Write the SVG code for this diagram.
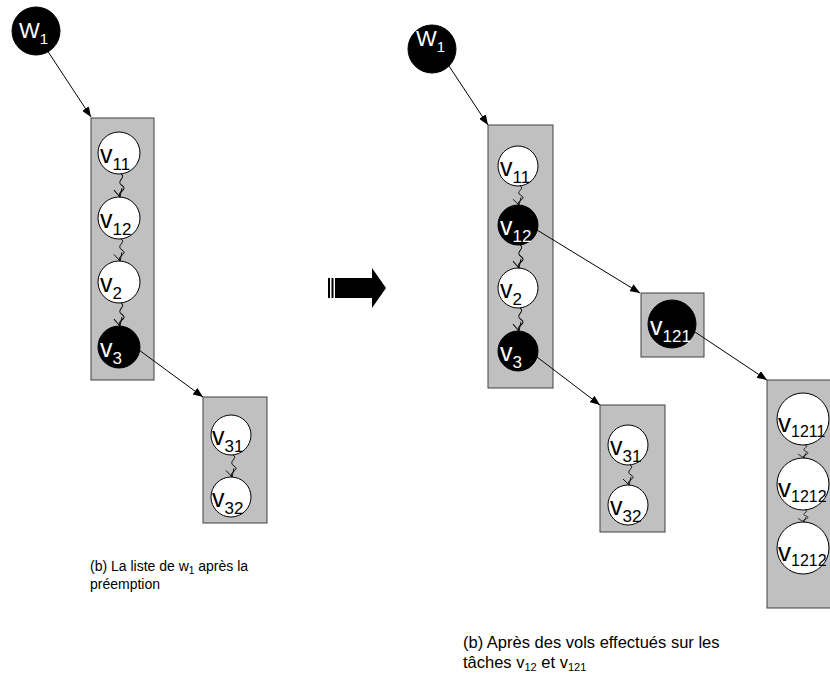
<svg xmlns="http://www.w3.org/2000/svg" width="830" height="677" viewBox="0 0 830 677">
<style>
.box{fill:#c0c0c0;stroke:#404040;stroke-width:1}
.wn{fill:#fff;stroke:#000;stroke-width:1}
.bn{fill:#000;stroke:#000;stroke-width:1}
.t{font-family:"Liberation Sans",Arial,sans-serif;fill:#000}
.tw{font-family:"Liberation Sans",Arial,sans-serif;fill:#fff}
.edge{stroke:#000;stroke-width:1;fill:none}
.sq{stroke:#000;stroke-width:0.9;fill:none}
.cap{font-family:"Liberation Sans",Arial,sans-serif;font-size:14px;fill:#000}
.cap2{font-family:"Liberation Sans",Arial,sans-serif;font-size:16.5px;fill:#000}
</style>
<defs>
<marker id="ah" markerUnits="userSpaceOnUse" markerWidth="10" markerHeight="8" refX="10" refY="4" orient="auto">
<path d="M0,0 L10,4 L0,8 z" fill="#000"/>
</marker>
<g id="squig">
<path class="sq" d="M1,0 C7,3 -5,6 2,10 S -4,15 0,20"/>
<path class="sq" d="M-6,14 L0,20 L2,12"/>
</g>
</defs>

<!-- Left part -->
<g id="w1-left">
<circle class="bn" cx="36" cy="31" r="24"/>
<text class="tw" x="19" y="38" font-size="22">W<tspan font-size="15" dy="6">1</tspan></text>
</g>
<g id="list-left">
<rect class="box" x="91" y="118" width="63" height="262"/>
</g>
<g id="v11-left">
<circle class="wn" cx="119" cy="153" r="21"/>
<text class="t" x="100" y="163" font-size="25">v<tspan font-size="17" dy="7">11</tspan></text>
</g>
<g id="v12-left">
<circle class="wn" cx="119" cy="218" r="21"/>
<text class="t" x="100" y="228" font-size="25">v<tspan font-size="17" dy="7">12</tspan></text>
</g>
<g id="v2-left">
<circle class="wn" cx="119" cy="282" r="21"/>
<text class="t" x="100" y="292" font-size="25">v<tspan font-size="17" dy="7">2</tspan></text>
</g>
<g id="v3-left">
<circle class="bn" cx="119" cy="347" r="21"/>
<text class="tw" x="100" y="357" font-size="25">v<tspan font-size="17" dy="7">3</tspan></text>
</g>
<g id="list-v3-left">
<rect class="box" x="203" y="397" width="64" height="126"/>
</g>
<g id="v31-left">
<circle class="wn" cx="231" cy="435" r="20"/>
<text class="t" x="212" y="445" font-size="25">v<tspan font-size="17" dy="7">31</tspan></text>
</g>
<g id="v32-left">
<circle class="wn" cx="231" cy="497" r="20"/>
<text class="t" x="212" y="507" font-size="25">v<tspan font-size="17" dy="7">32</tspan></text>
</g>

<g id="caption-left">
<text class="cap" x="90" y="571">(b) La liste de w<tspan font-size="10" dy="3">1</tspan><tspan dy="-3"> après la</tspan></text>
<text class="cap" x="90" y="589">préemption</text>
</g>

<!-- Big arrow -->
<g id="big-arrow">
<rect x="328" y="278" width="2" height="20" fill="#000"/>
<rect x="331.5" y="278" width="2" height="20" fill="#000"/>
<rect x="335" y="278" width="3" height="20" fill="#000"/>
<polygon points="338,278 372,278 372,268 386,288 372,308 372,298 338,298" fill="#000"/>
</g>

<!-- Right part -->
<g id="w1-right">
<circle class="bn" cx="432" cy="49" r="24"/>
<text class="tw" x="416" y="46" font-size="22">W<tspan font-size="15" dy="6">1</tspan></text>
</g>
<g id="list-right">
<rect class="box" x="488" y="125" width="65" height="263"/>
</g>
<g id="v11-right">
<circle class="wn" cx="518" cy="166" r="20"/>
<text class="t" x="500" y="176" font-size="25">v<tspan font-size="17" dy="7">11</tspan></text>
</g>
<g id="v12-right">
<circle class="bn" cx="518" cy="225" r="20"/>
<text class="tw" x="500" y="235" font-size="25">v<tspan font-size="17" dy="7">12</tspan></text>
</g>
<g id="v2-right">
<circle class="wn" cx="518" cy="288" r="20"/>
<text class="t" x="500" y="298" font-size="25">v<tspan font-size="17" dy="7">2</tspan></text>
</g>
<g id="v3-right">
<circle class="bn" cx="518" cy="351" r="20"/>
<text class="tw" x="500" y="361" font-size="25">v<tspan font-size="17" dy="7">3</tspan></text>
</g>
<g id="list-v121">
<rect class="box" x="641" y="293" width="63" height="64"/>
</g>
<g id="v121">
<circle class="bn" cx="672" cy="324" r="24"/>
<text class="tw" x="650" y="335" font-size="25">v<tspan font-size="17" dy="7">121</tspan></text>
</g>
<g id="list-v3-right">
<rect class="box" x="600" y="405" width="65" height="127"/>
</g>
<g id="v31-right">
<circle class="wn" cx="628" cy="445" r="20"/>
<text class="t" x="610" y="455" font-size="25">v<tspan font-size="17" dy="7">31</tspan></text>
</g>
<g id="v32-right">
<circle class="wn" cx="628" cy="505" r="20"/>
<text class="t" x="610" y="515" font-size="25">v<tspan font-size="17" dy="7">32</tspan></text>
</g>
<g id="list-v121-sub">
<rect class="box" x="767" y="380" width="70" height="228"/>
</g>
<g id="v1211">
<circle class="wn" cx="803" cy="419" r="26"/>
<text class="t" x="778" y="432" font-size="26">v<tspan font-size="16" dy="5">1211</tspan></text>
</g>
<g id="v1212-a">
<circle class="wn" cx="803" cy="484" r="26"/>
<text class="t" x="778" y="497" font-size="26">v<tspan font-size="16" dy="5">1212</tspan></text>
</g>
<g id="v1212-b">
<circle class="wn" cx="803" cy="548" r="26"/>
<text class="t" x="778" y="561" font-size="26">v<tspan font-size="16" dy="5">1212</tspan></text>
</g>

<g id="caption-right">
<text class="cap2" x="463" y="648">(b) Après des vols effectués sur les</text>
<text class="cap2" x="463" y="668">tâches v<tspan font-size="11" dy="3">12</tspan><tspan dy="-3"> et v</tspan><tspan font-size="11" dy="3">121</tspan></text>
</g>

<!-- Connectors -->
<g id="connectors">
<line class="edge" x1="47" y1="50" x2="91" y2="117" marker-end="url(#ah)"/>
<line class="edge" x1="139" y1="350" x2="203" y2="397" marker-end="url(#ah)"/>
<line class="edge" x1="445" y1="60" x2="488" y2="125" marker-end="url(#ah)"/>
<line class="edge" x1="537" y1="230" x2="640" y2="293" marker-end="url(#ah)"/>
<line class="edge" x1="695" y1="332" x2="767" y2="380" marker-end="url(#ah)"/>
<line class="edge" x1="537" y1="357" x2="600" y2="405" marker-end="url(#ah)"/>

<use href="#squig" transform="translate(120,174) scale(1,1.15)"/>
<use href="#squig" transform="translate(120,239) scale(1,1.1)"/>
<use href="#squig" transform="translate(120,303) scale(1,1.15)"/>
<use href="#squig" transform="translate(232,455) scale(1,1.1)"/>
<use href="#squig" transform="translate(519,186) scale(1,0.95)"/>
<use href="#squig" transform="translate(519,245) scale(1,1.15)"/>
<use href="#squig" transform="translate(519,308) scale(1,1.15)"/>
<use href="#squig" transform="translate(629,465) scale(1,1)"/>
<use href="#squig" transform="translate(804,445) scale(1,0.65)"/>
<use href="#squig" transform="translate(804,510) scale(1,0.6)"/>
</g>
</svg>
